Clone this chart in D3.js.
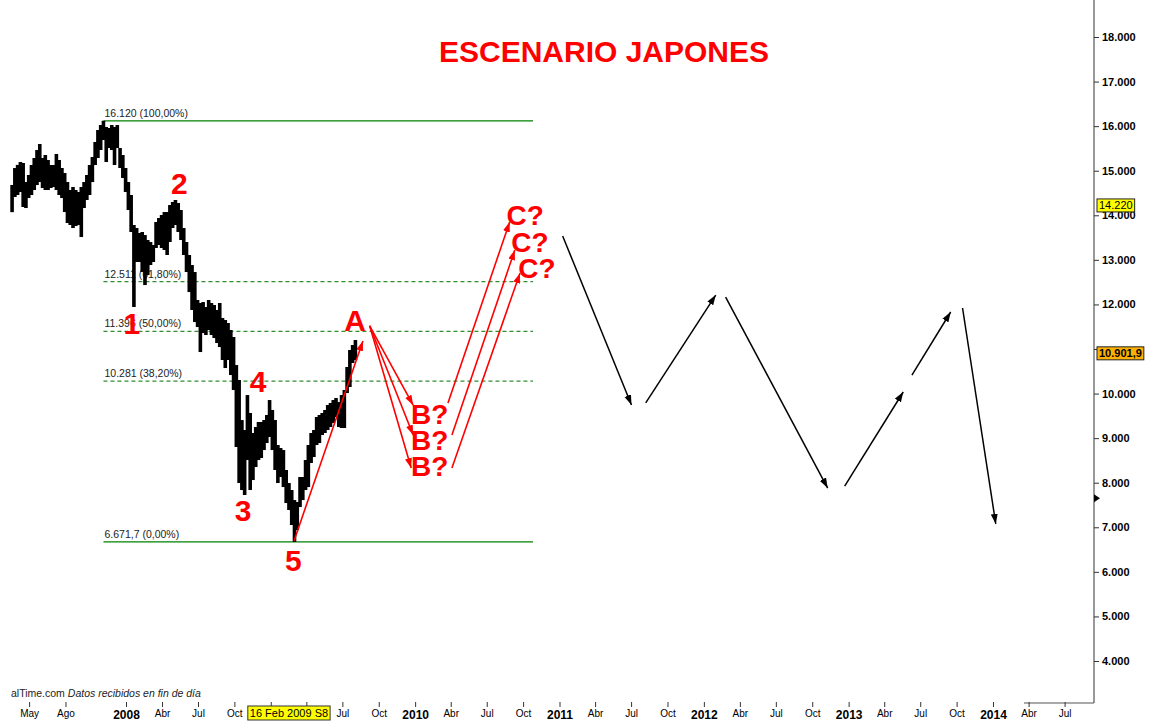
<!DOCTYPE html>
<html><head><meta charset="utf-8">
<script src="https://cdn.jsdelivr.net/npm/d3@7"></script>
<style>
body{margin:0;background:#fff}
svg{display:block;font-family:"Liberation Sans",Arial,sans-serif}
</style>
</head><body><svg id="c" width="1156" height="722"></svg>
<script>
// ---------- DATA ----------
const title = "ESCENARIO JAPONES";
const weekStart = "2007-03-19";
const highs = [
14680,15060,15130,15195,15173,14746,14904,15128,15285,15464,
15599,15285,15352,15240,15128,15128,15375,15240,15061,14948,
14746,14567,14634,14567,14522,14634,14746,14904,15128,15307,
15644,15913,16025,16120,15981,15958,16025,15981,16025,15509,
15352,15061,14746,14455,13782,13714,13602,13625,13557,13445,
13400,13333,13849,13939,14006,14073,14073,14230,14298,14343,
14275,14118,13714,13400,13109,12884,12727,12099,12032,12054,
11942,12099,12032,11987,11875,12032,11695,11650,11583,11426,
11269,10640,10304,9406,9182,9967,9564,9115,9249,9362,
9362,9406,9519,9855,9631,9406,8846,8778,8733,8285,
7993,7836,7611,7567,8128,8128,8509,8846,9115,9182,
9474,9519,9564,9631,9743,9788,9855,9900,9810,9967,
10080,10596,10977,11089,11201];
const lows = [
14070,14410,14455,14522,14186,14163,14387,14455,14567,14679,
14746,14612,14567,14567,14612,14634,14567,14455,14387,14073,
13827,13782,13714,13759,13782,13512,14163,14343,14455,14746,
15128,15285,15464,15689,15195,15509,15464,15128,15509,15061,
14836,14522,14118,13625,11942,12952,12952,12727,12435,12660,
12884,12952,13266,13333,13266,13221,13109,13400,13714,13782,
13625,13445,13109,12727,12278,11875,11605,11493,10932,11358,
11314,11426,11314,11246,11134,11044,10753,10573,10753,10416,
10080,8801,7993,7836,7724,8509,7836,8060,8352,8509,
8554,8733,8890,9025,8733,8285,7993,8128,7903,7544,
7387,7051,6672,6938,7454,7611,7836,7903,8442,8576,
8846,8890,9070,9115,9182,9249,9339,9474,9249,9227,
9227,10012,10147,10685,10753];

const yTicks = [4000,5000,6000,7000,8000,9000,10000,11000,12000,13000,14000,15000,16000,17000,18000];
const yTicksHidden = [11000];           // covered by the last-value box in the reference
const xTickDates = ["2007-05-01","2007-08-01",
 "2008-01-01","2008-04-01","2008-07-01","2008-10-01",
 "2009-01-01","2009-04-01","2009-07-01","2009-10-01",
 "2010-01-01","2010-04-01","2010-07-01","2010-10-01",
 "2011-01-01","2011-04-01","2011-07-01","2011-10-01",
 "2012-01-01","2012-04-01","2012-07-01","2012-10-01",
 "2013-01-01","2013-04-01","2013-07-01","2013-10-01",
 "2014-01-01","2014-04-01","2014-07-01"];
const xTicksHidden = ["2009-01-01","2009-04-01"]; // covered by the date cursor box
const monthNames = ["Ene","Feb","Mar","Abr","May","Jun","Jul","Ago","Sep","Oct","Nov","Dic"];

const fibLevels = [16120, 12511, 11396, 10281, 6671.7];
const fibLabels = ["16.120 (100,00%)","12.511 (61,80%)","11.396 (50,00%)","10.281 (38,20%)","6.671,7 (0,00%)"];
const fibDashed = [false, true, true, true, false];
const fibRange = ["2007-11-05","2010-10-26"];

const waveLabels = [["1","2008-01-16",11580],["2","2008-05-15",14720],["3","2008-10-23",7390],
                    ["4","2008-11-30",10280],["5","2009-02-27",6260],["A","2009-08-02",11650]];
const bLabels = [["B?","2010-02-07",9540],["B?","2010-02-07",8960],["B?","2010-02-07",8375]];
const cLabels = [["C?","2010-10-06",14005],["C?","2010-10-18",13400],["C?","2010-11-05",12815]];

const redArrows = [
 ["2009-03-01",6700,"2009-08-22",11180],
 ["2009-09-08",11520,"2009-12-27",9740],
 ["2009-09-08",11520,"2009-12-27",9070],
 ["2009-09-08",11520,"2009-12-22",8330],
 ["2010-03-25",9790,"2010-08-28",13850],
 ["2010-04-04",9070,"2010-09-10",13220],
 ["2010-04-04",8330,"2010-09-23",12700]];
const blackArrows = [
 ["2011-01-09",13535,"2011-07-02",9745],
 ["2011-08-07",9790,"2012-01-31",12210],
 ["2012-02-25",12165,"2012-11-09",7880],
 ["2012-12-22",7925,"2013-05-19",10035],
 ["2013-06-10",10415,"2013-09-16",11830],
 ["2013-10-16",11920,"2014-01-08",7075]];

const lastValue = 10901.9, lastLabel = "10.901,9";
const cursorValue = 14220, cursorLabel = "14.220";
const markerValue = 7650;
const cursorDate = "2009-02-16", cursorDateLabel = "16 Feb 2009 S8";

// ---------- CHART ----------
const parse = d3.utcParse("%Y-%m-%d");
const svg = d3.select("#c");
const x = d3.scaleUtc().domain([parse("2008-01-01"), parse("2014-01-01")]).range([126, 993]);
const y = d3.scaleLinear().domain([4000, 18000]).range([661, 37]);
const axisX = 1094, axisBottomY = 702;

const defs = svg.append("defs");
[["red","#ff0000"],["blk","#000"]].forEach(([id,c])=>{
  defs.append("marker").attr("id","ah-"+id).attr("viewBox","0 -4 10 8")
    .attr("refX",10).attr("refY",0).attr("markerWidth",10).attr("markerHeight",8)
    .attr("markerUnits","userSpaceOnUse").attr("orient","auto")
    .append("path").attr("d","M0,-3.5L10,0L0,3.5Z").attr("fill",c);
});

// title
svg.append("text").attr("x",604).attr("y",62).attr("text-anchor","middle")
  .attr("font-size",30).attr("font-weight","bold").attr("fill","#ff0000").text(title);

// fib lines
const fx0 = x(parse(fibRange[0])), fx1 = x(parse(fibRange[1]));
fibLevels.forEach((v,i)=>{
  svg.append("line").attr("x1",fx0).attr("x2",fx1).attr("y1",y(v)).attr("y2",y(v))
    .attr("stroke", fibDashed[i] ? "#2f8f2f" : "#008000").attr("stroke-width",1.2)
    .attr("stroke-dasharray", fibDashed[i] ? "4,3" : null);
  svg.append("text").attr("x",fx0+1).attr("y",y(v)-4).attr("font-size",10.5).attr("fill","#222")
    .text(fibLabels[i]);
});

// price bars
const start = parse(weekStart);
const bars = highs.map((h,i)=>({d:d3.utcDay.offset(start,7*i), h, l:lows[i]}));
svg.append("g").selectAll("rect").data(bars).join("rect")
  .attr("x",d=>x(d.d)-1.8).attr("width",3.6)
  .attr("y",d=>y(d.h)).attr("height",d=>Math.max(1,y(d.l)-y(d.h)))
  .attr("fill","#000");

// red arrows
svg.append("g").selectAll("line").data(redArrows).join("line")
  .attr("x1",d=>x(parse(d[0]))).attr("y1",d=>y(d[1]))
  .attr("x2",d=>x(parse(d[2]))).attr("y2",d=>y(d[3]))
  .attr("stroke","#ff0000").attr("stroke-width",1.6).attr("marker-end","url(#ah-red)");

// black arrows
svg.append("g").selectAll("line").data(blackArrows).join("line")
  .attr("x1",d=>x(parse(d[0]))).attr("y1",d=>y(d[1]))
  .attr("x2",d=>x(parse(d[2]))).attr("y2",d=>y(d[3]))
  .attr("stroke","#000").attr("stroke-width",1.5).attr("marker-end","url(#ah-blk)");

// red labels
function redText(arr, size){
  svg.append("g").selectAll("text").data(arr).join("text")
    .attr("x",d=>x(parse(d[1]))).attr("y",d=>y(d[2])).attr("dy","0.36em")
    .attr("text-anchor","middle").attr("font-size",size).attr("font-weight","bold")
    .attr("fill","#ff0000").text(d=>d[0]);
}
redText(waveLabels, 30);
redText(bLabels, 28);
redText(cLabels, 28);

// right axis
const fmt = d3.formatLocale({decimal:",",thousands:".",grouping:[3],currency:["","€"]}).format(",");
svg.append("line").attr("x1",axisX).attr("x2",axisX).attr("y1",0).attr("y2",axisBottomY+1)
  .attr("stroke","#555").attr("stroke-width",1.2);
svg.append("line").attr("x1",1024).attr("x2",axisX).attr("y1",axisBottomY+1).attr("y2",axisBottomY+1)
  .attr("stroke","#555").attr("stroke-width",1.2);
const gy = svg.append("g").attr("transform",`translate(${axisX},0)`)
  .call(d3.axisRight(y).tickValues(yTicks).tickSize(5).tickPadding(3)
    .tickFormat(d=> yTicksHidden.includes(d) ? "" : fmt(d)));
gy.select(".domain").remove();
gy.selectAll("text").attr("font-size",11).attr("font-weight","bold").attr("fill","#000")
  .attr("font-family","'Liberation Sans',Arial,sans-serif");
gy.selectAll("line").attr("stroke","#333");

// bottom axis
const hiddenX = xTicksHidden.map(s=>+parse(s));
const gx = svg.append("g").attr("transform",`translate(0,${axisBottomY})`)
  .call(d3.axisBottom(x).tickValues(xTickDates.map(parse)).tickSize(5).tickPadding(3)
    .tickFormat(d=> hiddenX.includes(+d) ? "" :
      (d.getUTCMonth()===0 ? String(d.getUTCFullYear()) : monthNames[d.getUTCMonth()])));
gx.select(".domain").remove();
gx.selectAll("line").attr("stroke","#333");
gx.selectAll("text").attr("fill","#000").attr("font-family","'Liberation Sans',Arial,sans-serif")
  .attr("font-size",d=>d.getUTCMonth()===0?12:10)
  .attr("font-weight",d=>d.getUTCMonth()===0?"bold":"normal");

// footer text
svg.append("text").attr("x",11).attr("y",697).attr("font-size",10.5).attr("fill","#222")
  .call(t=>{ t.append("tspan").text("alTime.com  ");
             t.append("tspan").attr("font-style","italic").text("Datos recibidos en fin de día"); });

// value boxes on right axis
function valueBox(v, label, fill, bold){
  const g = svg.append("g");
  const t = g.append("text").attr("x",axisX+5).attr("y",y(v)).attr("dy","0.36em")
    .attr("font-size",11).attr("font-weight",bold?"bold":"normal").attr("fill","#000").text(label);
  const bb = t.node().getBBox();
  g.insert("rect","text").attr("x",bb.x-2).attr("y",bb.y-0.5).attr("width",bb.width+4).attr("height",bb.height+1)
    .attr("fill",fill).attr("stroke","#222").attr("stroke-width",1);
}
valueBox(cursorValue, cursorLabel, "#ffff00", false);
valueBox(lastValue, lastLabel, "#ffb000", true);

// marker triangle
svg.append("path").attr("transform",`translate(${axisX},${y(markerValue)})`)
  .attr("d","M0,-4L6,0L0,4Z").attr("fill","#000");

// date cursor box
{
  const g = svg.append("g");
  const t = g.append("text").attr("x",x(parse(cursorDate))).attr("y",717).attr("text-anchor","middle")
    .attr("font-size",11).attr("fill","#000").text(cursorDateLabel);
  const bb = t.node().getBBox();
  g.insert("rect","text").attr("x",bb.x-2).attr("y",bb.y-1).attr("width",bb.width+4).attr("height",bb.height+2)
    .attr("fill","#ffff00").attr("stroke","#333").attr("stroke-width",1);
}
</script></body></html>
